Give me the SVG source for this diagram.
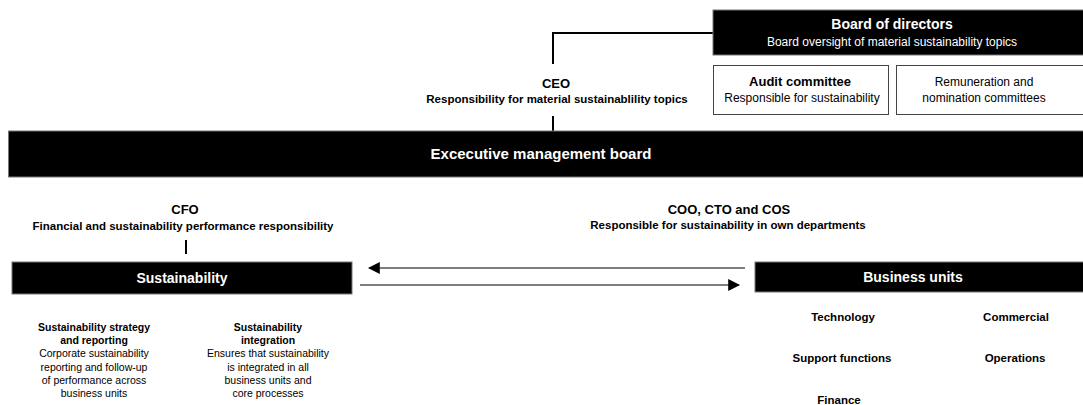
<svg xmlns="http://www.w3.org/2000/svg" width="1083" height="405" viewBox="0 0 1083 405">
<style>
text{font-family:"Liberation Sans","DejaVu Sans",sans-serif;text-anchor:middle;fill:#000}
.w{fill:#fff}
.b{font-weight:bold}
.t15{font-size:15px}
.t14{font-size:14px}
.t13{font-size:13px}
.t12{font-size:12px}
.s{font-size:11.5px;font-weight:bold}
.c{font-size:10.5px}
.u{font-size:11.5px;font-weight:bold}
.box{fill:#000;stroke:#777;stroke-width:1}
.obox{fill:#fff;stroke:#444;stroke-width:1}
.ln{fill:none;stroke:#000;stroke-width:2}
.ar{fill:none;stroke:#000;stroke-width:1.2}
</style>
<defs>
<marker id="ah" viewBox="0 0 10 10" refX="9" refY="5" markerWidth="12" markerHeight="12" markerUnits="userSpaceOnUse" orient="auto">
<path d="M0,0 L10,5 L0,10 z" fill="#000"/>
</marker>
</defs>
<rect width="1083" height="405" fill="#fff"/>
<g id="connectors">
<path class="ln" d="M553,64 V33 H713"/>
<path class="ln" d="M553,116 V131"/>
<path class="ln" d="M186,240 V254"/>
<path class="ar" d="M745,268 H369" marker-end="url(#ah)"/>
<path class="ar" d="M360,285 H739" marker-end="url(#ah)"/>
</g>
<g id="board">
<rect class="box" x="713" y="10" width="371" height="45"/>
<text class="w b t14" x="892" y="29">Board of directors</text>
<text class="w t12" x="892" y="46">Board oversight of material sustainability topics</text>
</g>
<g id="audit">
<rect class="obox" x="713.5" y="65.5" width="175" height="49"/>
<text class="b t13" x="800" y="86">Audit committee</text>
<text class="t12" x="802" y="102">Responsible for sustainability</text>
</g>
<g id="remuneration">
<rect class="obox" x="896.5" y="65.5" width="190" height="49"/>
<text class="t12" x="984" y="86">Remuneration and</text>
<text class="t12" x="984" y="102">nomination committees</text>
</g>
<g id="ceo">
<text class="b t13" x="556" y="88">CEO</text>
<text class="s" x="557" y="103">Responsibility for material sustainablility topics</text>
</g>
<g id="exec">
<rect class="box" x="8.5" y="131" width="1076" height="46"/>
<text class="w b t15" x="541" y="159">Excecutive management board</text>
</g>
<g id="cfo">
<text class="b t13" x="185" y="214">CFO</text>
<text class="s" x="183" y="230">Financial and sustainability performance responsibility</text>
</g>
<g id="coo">
<text class="b t13" x="729" y="214">COO, CTO and COS</text>
<text class="s" x="728" y="229">Responsible for sustainability in own departments</text>
</g>
<g id="sustainability">
<rect class="box" x="12" y="262" width="340" height="32"/>
<text class="w b t14" x="182" y="283">Sustainability</text>
</g>
<g id="business-units">
<rect class="box" x="755" y="262" width="330" height="30"/>
<text class="w b t14" x="913" y="282">Business units</text>
</g>
<g id="strategy">
<text class="b c" x="94" y="331">Sustainability strategy</text>
<text class="b c" x="94" y="344">and reporting</text>
<text class="c" x="94" y="357">Corporate sustainability</text>
<text class="c" x="94" y="371">reporting and follow-up</text>
<text class="c" x="94" y="384">of performance across</text>
<text class="c" x="94" y="397">business units</text>
</g>
<g id="integration">
<text class="b c" x="268" y="331">Sustainability</text>
<text class="b c" x="268" y="344">integration</text>
<text class="c" x="268" y="357">Ensures that sustainability</text>
<text class="c" x="268" y="371">is integrated in all</text>
<text class="c" x="268" y="384">business units and</text>
<text class="c" x="268" y="397">core processes</text>
</g>
<g id="technology"><text class="u" x="843" y="321">Technology</text></g>
<g id="commercial"><text class="u" x="1016" y="321">Commercial</text></g>
<g id="support"><text class="u" x="842" y="362">Support functions</text></g>
<g id="operations"><text class="u" x="1015" y="362">Operations</text></g>
<g id="finance"><text class="u" x="839" y="404">Finance</text></g>
</svg>
